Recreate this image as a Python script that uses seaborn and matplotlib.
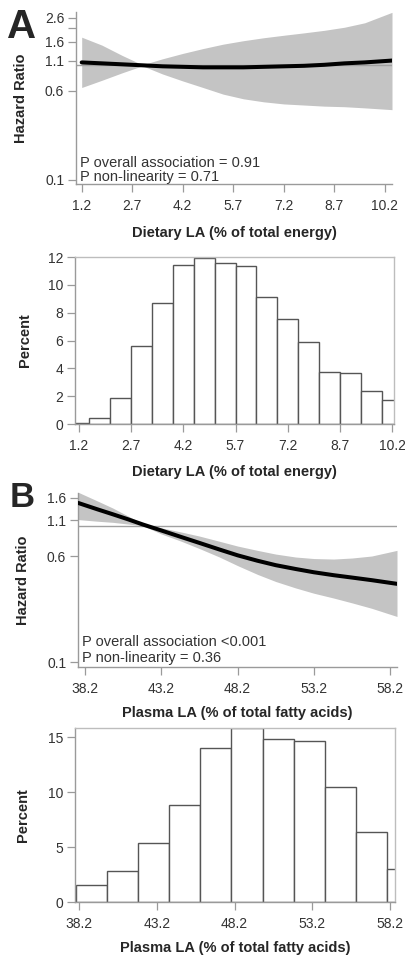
import matplotlib
matplotlib.use("Agg")
import matplotlib.pyplot as plt
import seaborn as sns
import numpy as np
import pandas as pd

# ---- panel A: dietary LA spline (hazard ratio, 95% CI)
diet_x = [1.2, 1.8, 2.4, 3.0, 3.6, 4.2, 4.8, 5.4, 6.0, 6.6, 7.2, 7.8, 8.4, 9.0, 9.6, 10.41]
diet_hr = [1.06, 1.04, 1.02, 1.0, 0.98, 0.97, 0.96, 0.96, 0.96, 0.97, 0.98, 0.99, 1.01, 1.04, 1.06, 1.10]
diet_lo = [0.64, 0.74, 0.86, 0.99, 0.84, 0.73, 0.64, 0.56, 0.51, 0.48, 0.46, 0.45, 0.44, 0.435, 0.425, 0.41]
diet_hi = [1.76, 1.50, 1.22, 1.01, 1.14, 1.27, 1.40, 1.53, 1.64, 1.74, 1.83, 1.92, 2.02, 2.15, 2.35, 2.9]

# ---- panel A: distribution of dietary LA (% of participants)
diet_edges = [0.9, 1.5, 2.1, 2.7, 3.3, 3.9, 4.5, 5.1, 5.7, 6.3, 6.9, 7.5, 8.1, 8.7, 9.3, 9.9, 10.5]
diet_pct = [0.07, 0.45, 1.87, 5.6, 8.68, 11.46, 11.92, 11.56, 11.32, 9.11, 7.55, 5.88, 3.76, 3.64, 2.40, 1.75]

# ---- panel B: plasma LA spline
plasma_x = [37.74, 39.0, 40.0, 41.0, 42.0, 43.2, 44.5, 45.7, 47.0, 48.2, 49.5, 50.7, 52.0, 53.2, 54.5, 55.7, 57.0, 58.66]
plasma_hr = [1.47, 1.32, 1.215, 1.116, 1.02, 0.923, 0.827, 0.748, 0.670, 0.607, 0.554, 0.514, 0.482, 0.456, 0.434, 0.417, 0.399, 0.375]
plasma_lo = [1.11, 1.08, 1.06, 1.03, 1.0, 0.87, 0.77, 0.68, 0.59, 0.51, 0.44, 0.39, 0.35, 0.32, 0.295, 0.272, 0.248, 0.216]
plasma_hi = [1.76, 1.52, 1.35, 1.18, 1.03, 0.965, 0.90, 0.84, 0.77, 0.71, 0.66, 0.62, 0.59, 0.575, 0.57, 0.58, 0.60, 0.66]

# ---- panel B: distribution of plasma LA
plasma_edges = [38, 40, 42, 44, 46, 48, 50, 52, 54, 56, 58, 60]
plasma_pct = [1.58, 2.79, 5.39, 8.85, 14.0, 15.8, 14.8, 14.6, 10.45, 6.36, 3.03]

diet_ticks = [1.2, 2.7, 4.2, 5.7, 7.2, 8.7, 10.2]
plasma_ticks = [38.2, 43.2, 48.2, 53.2, 58.2]

sns.set_style("ticks")
plt.rcParams["font.family"] = ["Liberation Sans", "DejaVu Sans"]

W, H = 405, 958
fig = plt.figure(figsize=(W / 100, H / 100), dpi=100)


def box(left, top, right, bottom):
    # pixel box -> figure fraction
    return [left / W, 1 - bottom / H, (right - left) / W, (bottom - top) / H]


SPINE = "#9a9a9a"
TXT = "#333333"


def style_axes(ax, spines):
    for s in ["left", "right", "top", "bottom"]:
        ax.spines[s].set_visible(s in spines)
        ax.spines[s].set_color(SPINE)
        ax.spines[s].set_linewidth(1.0)
    ax.tick_params(axis="both", direction="out", length=5.5, width=0.9, color=SPINE,
                   labelsize=10, labelcolor=TXT, pad=3)
    ax.tick_params(axis="x", pad=5)


def spline_panel(ax, x, hr, lo, hi, xlim, ylim, ticks, yticks, ylabels, xlabel, ptext):
    ax.fill_between(x, lo, hi, color="#c4c4c4", lw=0, zorder=1)
    ax.axhline(1.0, color="#a0a0a0", lw=1.0, zorder=2)
    df = pd.DataFrame({"x": x, "hr": hr})
    sns.lineplot(data=df, x="x", y="hr", ax=ax, color="black", lw=2.9, zorder=3)
    ax.set_yscale("log")
    ax.set_xlim(*xlim)
    ax.set_ylim(*ylim)
    ax.set_xticks(ticks)
    ax.set_xticklabels([f"{t:.1f}" for t in ticks])
    ax.set_yticks(yticks)
    ax.set_yticklabels(ylabels)
    ax.minorticks_off()
    style_axes(ax, ["left", "bottom"])
    ax.set_ylabel("Hazard Ratio", fontsize=10.5, fontweight="bold", va="center")
    ax.set_xlabel(xlabel, fontsize=10.5, fontweight="bold", va="center")
    for (ty, s) in ptext:
        ax.text(0.012, ty, s, transform=ax.transAxes, fontsize=10.5, color=TXT,
                va="baseline", ha="left")


def hist_panel(ax, edges, pct, xlim, ylim, ticks, yticks, xlabel):
    centers = [(a + b) / 2 for a, b in zip(edges[:-1], edges[1:])]
    sns.histplot(x=centers, weights=pct, bins=edges, ax=ax, color="white",
                 edgecolor="#555555", linewidth=1.0, alpha=1)
    ax.set_xlim(*xlim)
    ax.set_ylim(*ylim)
    ax.set_xticks(ticks)
    ax.set_xticklabels([f"{t:.1f}" for t in ticks])
    ax.set_yticks(yticks)
    style_axes(ax, ["left", "right", "top", "bottom"])
    for s in ["right", "top"]:
        ax.spines[s].set_color("#bdbdbd")
    ax.set_ylabel("Percent", fontsize=10.5, fontweight="bold", va="center")
    ax.set_xlabel(xlabel, fontsize=10.5, fontweight="bold", va="center")


# panel A spline
axA = fig.add_axes(box(76, 12, 392, 184))
spline_panel(axA, diet_x, diet_hr, diet_lo, diet_hi, (1.031, 10.41), (0.092, 2.92),
             diet_ticks, [0.1, 0.6, 1.1, 1.6, 2.1, 2.6], ["0.1", "0.6", "1.1", "1.6", "", "2.6"],
             "Dietary LA (% of total energy)",
             [(0.099, "P overall association = 0.91"), (0.017, "P non-linearity = 0.71")])
axA.yaxis.set_label_coords((21 - 76) / 316, 0.5)
axA.xaxis.set_label_coords(0.5, (184 - 233) / 172)

# panel A histogram
axAh = fig.add_axes(box(75, 257, 394, 424))
hist_panel(axAh, diet_edges, diet_pct, (1.085, 10.257), (0, 12), diet_ticks,
           [0, 2, 4, 6, 8, 10, 12], "Dietary LA (% of total energy)")
axAh.yaxis.set_label_coords((25 - 75) / 319, 0.5)
axAh.xaxis.set_label_coords(0.5, (424 - 472) / 167)

# panel B spline
axB = fig.add_axes(box(78, 493, 397, 667))
spline_panel(axB, plasma_x, plasma_hr, plasma_lo, plasma_hi, (37.72, 58.66), (0.092, 1.74),
             plasma_ticks, [0.1, 0.6, 1.1, 1.6], ["0.1", "0.6", "1.1", "1.6"],
             "Plasma LA (% of total fatty acids)",
             [(0.121, "P overall association <0.001"), (0.029, "P non-linearity = 0.36")])
axB.yaxis.set_label_coords((23 - 78) / 319, 0.5)
axB.xaxis.set_label_coords(0.5, (667 - 713) / 174)

# panel B histogram
axBh = fig.add_axes(box(75, 728, 395, 902))
hist_panel(axBh, plasma_edges, plasma_pct, (37.94, 58.52), (0, 15.82), plasma_ticks,
           [0, 5, 10, 15], "Plasma LA (% of total fatty acids)")
axBh.yaxis.set_label_coords((23 - 75) / 320, 0.5)
axBh.xaxis.set_label_coords(0.5, (902 - 948) / 174)

fig.text(7 / W, 1 - 8 / H, "A", fontsize=29, fontweight="bold", va="top", ha="left")
fig.text(10 / W, 1 - 481 / H, "B", fontsize=25, fontweight="bold", va="top", ha="left")

fig.savefig("out.png", dpi=100)
